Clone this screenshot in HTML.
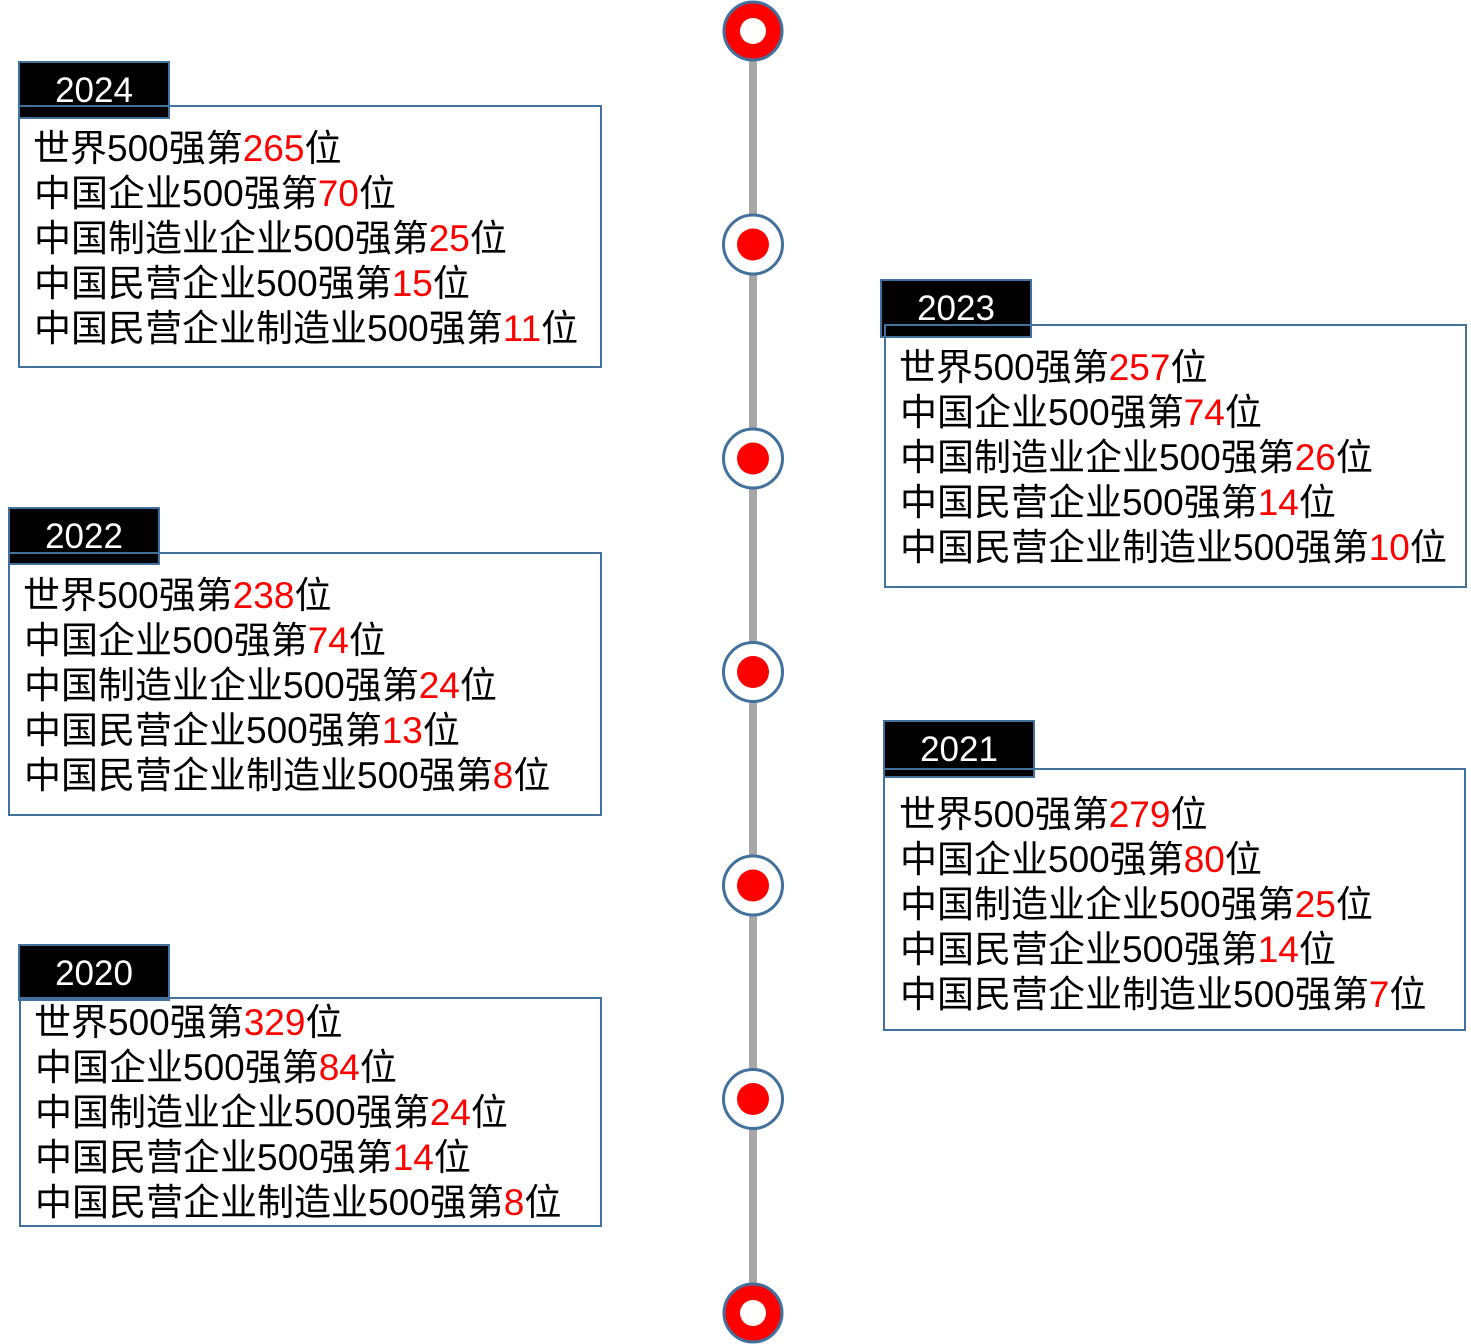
<!DOCTYPE html>
<html>
<head>
<meta charset="utf-8">
<style>
  html, body { margin:0; padding:0; background:#fff; }
  body { width:1471px; height:1344px; position:relative; overflow:hidden;
         font-family:"Liberation Sans","Noto Sans CJK SC",sans-serif; }
  .label { position:absolute; box-sizing:border-box; background:#000; border:2px solid #41719C;
           color:#fff; font-size:35px; text-align:center; line-height:55px; }
  .box { position:absolute; box-sizing:border-box; border:2px solid #41719C; background:transparent; }
  .line { position:absolute; font-size:37px; line-height:45px; white-space:nowrap; color:#000; }
  .r { color:#FF0000; }
  svg { position:absolute; left:0; top:0; }
</style>
</head>
<body>
<svg width="1471" height="1344" viewBox="0 0 1471 1344">
  <rect x="749" y="31" width="8" height="1282" fill="#A9A6A6"/>
  <circle cx="753" cy="31" r="29" fill="#FF0000" stroke="#41719C" stroke-width="3"/>
  <circle cx="753" cy="31" r="13" fill="#fff"/>
  <circle cx="753" cy="244.5" r="29.5" fill="#fff" stroke="#41719C" stroke-width="3"/>
  <circle cx="753" cy="244.5" r="16" fill="#FF0000"/>
  <circle cx="753" cy="458.5" r="29.5" fill="#fff" stroke="#41719C" stroke-width="3"/>
  <circle cx="753" cy="458.5" r="16" fill="#FF0000"/>
  <circle cx="753" cy="672" r="29.5" fill="#fff" stroke="#41719C" stroke-width="3"/>
  <circle cx="753" cy="672" r="16" fill="#FF0000"/>
  <circle cx="753" cy="885.5" r="29.5" fill="#fff" stroke="#41719C" stroke-width="3"/>
  <circle cx="753" cy="885.5" r="16" fill="#FF0000"/>
  <circle cx="753" cy="1099" r="29.5" fill="#fff" stroke="#41719C" stroke-width="3"/>
  <circle cx="753" cy="1099" r="16" fill="#FF0000"/>
  <circle cx="753" cy="1313" r="29" fill="#FF0000" stroke="#41719C" stroke-width="3"/>
  <circle cx="753" cy="1313" r="13" fill="#fff"/>
</svg>

<!-- 2024 -->
<div class="label" style="left:18px;top:61px;width:152px;height:58px;">2024</div>
<div class="box" style="left:18px;top:105px;width:584px;height:263px;"></div>
<div class="line" style="left:33px;top:126px;">世界500强第<span class="r">265</span>位</div>
<div class="line" style="left:34px;top:171px;">中国企业500强第<span class="r">70</span>位</div>
<div class="line" style="left:34px;top:216px;">中国制造业企业500强第<span class="r">25</span>位</div>
<div class="line" style="left:34px;top:261px;">中国民营企业500强第<span class="r">15</span>位</div>
<div class="line" style="left:34px;top:306px;">中国民营企业制造业500强第<span class="r">11</span>位</div>

<!-- 2023 -->
<div class="label" style="left:880px;top:279px;width:152px;height:59px;">2023</div>
<div class="box" style="left:884px;top:324px;width:583px;height:264px;"></div>
<div class="line" style="left:899px;top:345px;">世界500强第<span class="r">257</span>位</div>
<div class="line" style="left:900px;top:390px;">中国企业500强第<span class="r">74</span>位</div>
<div class="line" style="left:900px;top:435px;">中国制造业企业500强第<span class="r">26</span>位</div>
<div class="line" style="left:900px;top:480px;">中国民营企业500强第<span class="r">14</span>位</div>
<div class="line" style="left:900px;top:525px;">中国民营企业制造业500强第<span class="r">10</span>位</div>

<!-- 2022 -->
<div class="label" style="left:8px;top:507px;width:152px;height:58px;">2022</div>
<div class="box" style="left:8px;top:552px;width:594px;height:264px;"></div>
<div class="line" style="left:23px;top:573px;">世界500强第<span class="r">238</span>位</div>
<div class="line" style="left:24px;top:618px;">中国企业500强第<span class="r">74</span>位</div>
<div class="line" style="left:24px;top:663px;">中国制造业企业500强第<span class="r">24</span>位</div>
<div class="line" style="left:24px;top:708px;">中国民营企业500强第<span class="r">13</span>位</div>
<div class="line" style="left:24px;top:753px;">中国民营企业制造业500强第<span class="r">8</span>位</div>

<!-- 2021 -->
<div class="label" style="left:883px;top:720px;width:152px;height:58px;">2021</div>
<div class="box" style="left:883px;top:768px;width:583px;height:263px;"></div>
<div class="line" style="left:899px;top:792px;">世界500强第<span class="r">279</span>位</div>
<div class="line" style="left:900px;top:837px;">中国企业500强第<span class="r">80</span>位</div>
<div class="line" style="left:900px;top:882px;">中国制造业企业500强第<span class="r">25</span>位</div>
<div class="line" style="left:900px;top:927px;">中国民营企业500强第<span class="r">14</span>位</div>
<div class="line" style="left:900px;top:972px;">中国民营企业制造业500强第<span class="r">7</span>位</div>

<!-- 2020 -->
<div class="label" style="left:18px;top:944px;width:152px;height:57px;">2020</div>
<div class="box" style="left:19px;top:997px;width:583px;height:230px;"></div>
<div class="line" style="left:34px;top:1000px;">世界500强第<span class="r">329</span>位</div>
<div class="line" style="left:35px;top:1045px;">中国企业500强第<span class="r">84</span>位</div>
<div class="line" style="left:35px;top:1090px;">中国制造业企业500强第<span class="r">24</span>位</div>
<div class="line" style="left:35px;top:1135px;">中国民营企业500强第<span class="r">14</span>位</div>
<div class="line" style="left:35px;top:1180px;">中国民营企业制造业500强第<span class="r">8</span>位</div>
</body>
</html>
